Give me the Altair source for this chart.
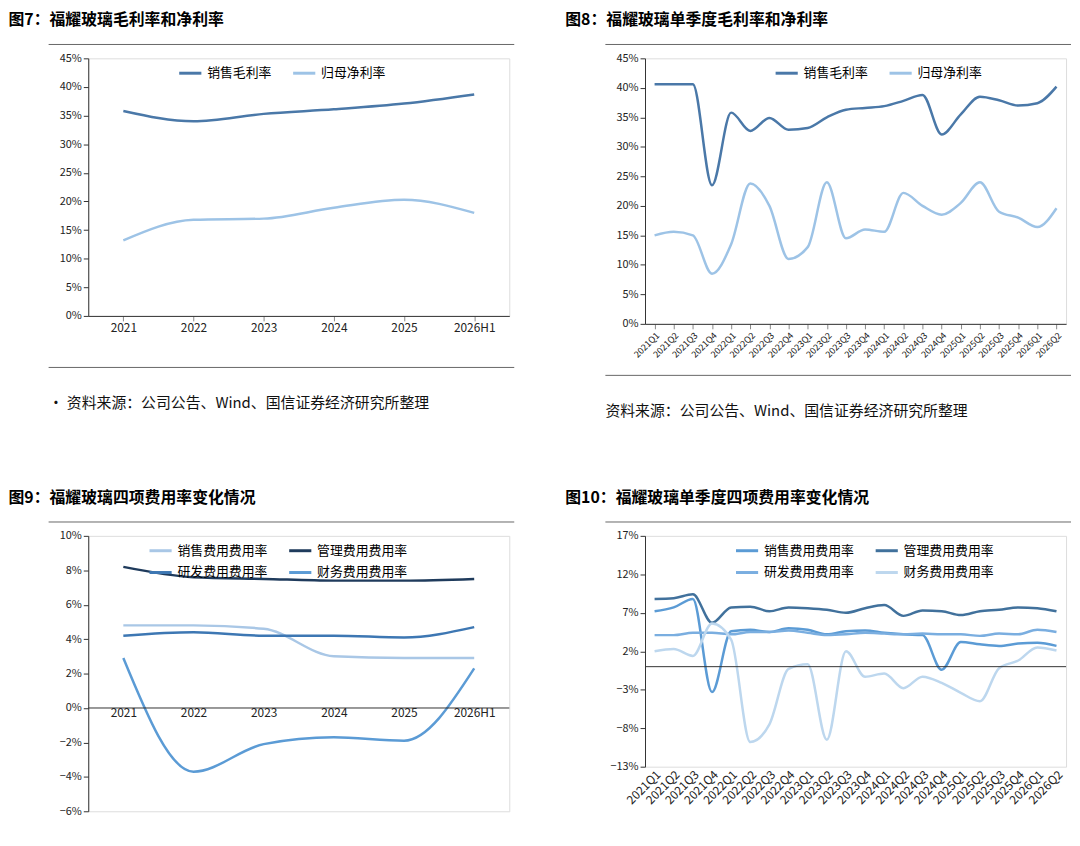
import altair as alt
import pandas as pd

years = ['2021', '2022', '2023', '2024', '2025', '2026H1']
quarters = ['2021Q1', '2021Q2', '2021Q3', '2021Q4', '2022Q1', '2022Q2', '2022Q3', '2022Q4',
            '2023Q1', '2023Q2', '2023Q3', '2023Q4', '2024Q1', '2024Q2', '2024Q3', '2024Q4',
            '2025Q1', '2025Q2', '2025Q3', '2025Q4', '2026Q1', '2026Q2']

# fig 7
gross_y = [35.8, 34.0, 35.3, 36.1, 37.1, 38.7]
net_y = [13.2, 16.8, 17.0, 18.9, 20.3, 18.0]
# fig 8
gross_q = [40.6, 40.6, 40.6, 23.5, 35.8, 32.7, 34.9, 32.9, 33.2, 35.0, 36.3,
           36.6, 36.9, 37.8, 38.8, 32.1, 35.5, 38.5, 37.9, 37.0, 37.4, 40.2]
net_q = [15.0, 15.6, 15.0, 8.5, 13.5, 23.8, 20.0, 11.0, 13.0, 24.0, 14.5,
         16.0, 15.6, 22.2, 20.0, 18.5, 20.5, 24.0, 19.0, 18.0, 16.4, 19.6]
# fig 9
sales_y = [4.8, 4.8, 4.6, 3.0, 2.9, 2.9]
admin_y = [8.2, 7.6, 7.5, 7.4, 7.4, 7.5]
rd_y = [4.2, 4.4, 4.2, 4.2, 4.1, 4.7]
fin_y = [2.9, -3.7, -2.1, -1.7, -1.9, 2.3]
# fig 10
sales_q = [7.2, 7.7, 8.8, -3.3, 4.6, 4.8, 4.5, 5.0, 4.8, 4.2, 4.6,
           4.7, 4.4, 4.2, 4.1, -0.4, 3.2, 2.9, 2.7, 3.0, 3.1, 2.7]
admin_q = [8.8, 8.9, 9.4, 5.7, 7.7, 7.8, 7.2, 7.7, 7.6, 7.4, 7.0,
           7.6, 8.0, 6.6, 7.3, 7.2, 6.7, 7.2, 7.4, 7.7, 7.6, 7.2]
rd_q = [4.1, 4.1, 4.4, 4.4, 4.2, 4.5, 4.5, 4.7, 4.4, 4.1, 4.2,
        4.4, 4.3, 4.2, 4.3, 4.2, 4.2, 4.0, 4.3, 4.2, 4.8, 4.5]
fin_q = [2.0, 2.3, 1.4, 5.6, 3.5, -9.8, -7.5, -0.3, 0.3, -9.5, 2.0,
         -1.3, -0.9, -2.8, -1.3, -2.1, -3.4, -4.5, -0.2, 0.8, 2.5, 2.1]

SOURCE = '资料来源：公司公告、Wind、国信证券经济研究所整理'
FONT = 'Noto Sans CJK SC'


def panel(cats, series, colors, title, ydom, yticks, w, h, label_angle=0, label_size=12,
          zero=False, x_offset=0, source=None, legend_cols=2, legend_x=100):
    names = list(series.keys())
    df = pd.DataFrame([{'cat': c, 'name': n, 'v': v / 100}
                       for n in names for c, v in zip(cats, series[n])])
    yenc = alt.Y('v:Q', title=None,
                 scale=alt.Scale(domain=[ydom[0] / 100, ydom[1] / 100], nice=False),
                 axis=alt.Axis(values=[t / 100 for t in yticks], format='.0%', grid=False,
                               labelFontSize=11, labelColor='#222', domainColor='#333',
                               tickColor='#333', labelOverlap=False))
    lines = alt.Chart(df).mark_line(strokeWidth=2.5, interpolate='monotone').encode(
        x=alt.X('cat:N', sort=cats, title=None,
                axis=alt.Axis(labelAngle=label_angle, labelFontSize=label_size, domain=not zero,
                              ticks=not zero, labelColor='#222', domainColor='#333',
                              offset=x_offset, labelOverlap=False)),
        y=yenc,
        color=alt.Color('name:N', sort=names, scale=alt.Scale(domain=names, range=colors),
                        legend=alt.Legend(title=None, orient='none', legendX=legend_x, legendY=2,
                                          direction='horizontal', columns=legend_cols,
                                          gridAlign='all',
                                          symbolType='stroke', symbolStrokeWidth=3, symbolSize=500,
                                          labelFontSize=13, labelFont=FONT, columnPadding=14,
                                          rowPadding=2)))
    layers = [lines]
    frame = pd.DataFrame({'v': [0.0]})
    layers.append(alt.Chart(frame).mark_rule(color='#666', strokeWidth=1).encode(
        x=alt.value(-40), x2=alt.value(w + 5), y=alt.value(-14)))
    if zero:
        layers.append(alt.Chart(frame).mark_rule(color='#333').encode(
            y=yenc, x=alt.value(0), x2=alt.value(w)))
    if source:
        layers.append(alt.Chart(frame).mark_rule(color='#666', strokeWidth=1).encode(
            x=alt.value(-40), x2=alt.value(w + 5), y=alt.value(h + 52)))
        layers.append(alt.Chart(frame).mark_text(align='left', fontSize=15, font=FONT,
                                                 color='#111').encode(
            x=alt.value(-40), y=alt.value(h + 88), text=alt.value(source)))
    return alt.layer(*layers).resolve_scale(color='independent').properties(
        width=w, height=h,
        title=alt.TitleParams(title, anchor='start', fontSize=16, font=FONT, fontWeight='bold',
                              offset=16, dx=-40))


p7 = panel(years, {'销售毛利率': gross_y, '归母净利率': net_y}, ['#4a78a8', '#9dc3e6'],
           '图7：福耀玻璃毛利率和净利率', (0, 45), list(range(0, 46, 5)), 425, 260,
           source='· ' + SOURCE, legend_x=90)
p8 = panel(quarters, {'销售毛利率': gross_q, '归母净利率': net_q}, ['#4a78a8', '#9dc3e6'],
           '图8：福耀玻璃单季度毛利率和净利率', (0, 45), list(range(0, 46, 5)), 425, 268,
           label_angle=-45, label_size=9, source=SOURCE, legend_x=130)
p9 = panel(years, {'销售费用费用率': sales_y, '管理费用费用率': admin_y,
                   '研发费用费用率': rd_y, '财务费用费用率': fin_y},
           ['#a9c7e6', '#1f3b5c', '#3d77b3', '#5b9bd5'],
           '图9：福耀玻璃四项费用率变化情况', (-6, 10), list(range(-6, 11, 2)), 425, 278,
           zero=True, x_offset=-(278 * 6 / 16) - 2, legend_x=60)
p10 = panel(quarters, {'销售费用费用率': sales_q, '管理费用费用率': admin_q,
                       '研发费用费用率': rd_q, '财务费用费用率': fin_q},
            ['#5b9bd5', '#41719c', '#7aaee0', '#bdd7ee'],
            '图10：福耀玻璃单季度四项费用率变化情况', (-13, 17), list(range(-13, 18, 5)), 425, 233,
            label_angle=-45, label_size=12, zero=True, legend_x=90)

chart = alt.vconcat(
    alt.hconcat(p7, p8, spacing=50).resolve_scale(color='independent'),
    alt.hconcat(p9, p10, spacing=50).resolve_scale(color='independent'),
    spacing=70,
).resolve_scale(color='independent').configure_view(stroke='transparent').configure(
    font=FONT, padding={'left': 0, 'top': 0, 'right': 0, 'bottom': 0})

chart.save('out.html', embed_options={'renderer': 'svg', 'actions': False})
